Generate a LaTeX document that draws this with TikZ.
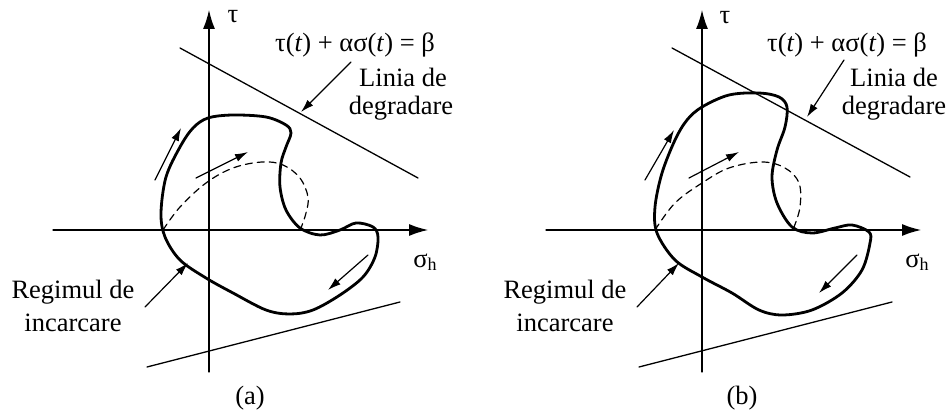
\documentclass[tikz,border=0pt]{standalone}
\usepackage{fontspec}
\setmainfont{Liberation Serif}
\usetikzlibrary{arrows.meta}

\begin{document}
\begin{tikzpicture}[x=1pt,y=1pt,line cap=round,line join=round,
    axis/.style={line width=1.3pt,-{Latex[length=19pt,width=12pt]}},
    pointer/.style={line width=1.2pt,-{Latex[length=13pt,width=8pt]}},
    loadpath/.style={line width=2.8pt},
    lbl/.style={font=\fontsize{26.5}{28}\selectfont,inner sep=0pt}]
    \useasboundingbox (0,0) rectangle (949,414);

    % panel (a)
    \begin{scope}[shift={(209,184)}]
        \draw[axis] (-156,0) -- (219,0);
        \draw[axis] (0,-142) -- (0,220);
        \draw[line width=1.3pt] (-29,182) -- (209,52);
        \draw[line width=1.3pt] (-62,-137) -- (191,-72);

        \draw[loadpath] plot[smooth cycle,tension=0.55] coordinates {
            (-1,112) (24,115) (57,113) (77,105) (82,97) (77,83) (72,67)
            (71,43) (77,20) (91,2) (111,-5) (131,0) (147,7) (164,3)
            (169,-7) (166,-27) (154,-47) (131,-65) (104,-80) (81,-84)
            (57,-80) (24,-63) (-3,-48) (-29,-30) (-44,-7) (-48,17)
            (-43,53) (-29,83) (-16,102)
        };
        \draw[line width=1.2pt,dash pattern=on 7pt off 5pt] plot[smooth,tension=0.6] coordinates {
            (-46,0) (-29,23) (-3,47) (24,62) (53,68) (74,65) (91,52)
            (99,33) (97,17) (92,2)
        };

        \node[lbl] (taua) at (24,213) {τ};
        \node[lbl] (sigmaa) at (216,-32) {σ\raisebox{-0.25ex}{\fontsize{18}{20}\selectfont h}};
        \node[lbl] (eqa) at (146,185) {τ(\textit{t}) + ασ(\textit{t}) = β};
        \node[lbl] (liniaa) at (194,153) {Linia de};
        \node[lbl] (degra) at (192,122) {degradare};
        \node[lbl] (regima) at (-136,-62) {Regimul de};
        \node[lbl] (incara) at (-136,-93) {incarcare};
        \node[lbl] (capa) at (41,-168) {(a)};

        \coordinate (lina1) at (142,168);
        \coordinate (lina2) at (92,118);
        \coordinate (rega1) at (-64,-77);
        \coordinate (rega2) at (-21,-33);
        \coordinate (upa1) at (-54,50);
        \coordinate (upa2) at (-28,102);
        \coordinate (dsa1) at (-13,52);
        \coordinate (dsa2) at (39,78);
        \coordinate (dna1) at (159,-25);
        \coordinate (dna2) at (119,-60);
        \draw[pointer] (lina1) -- (lina2);
        \draw[pointer] (rega1) -- (rega2);
        \draw[pointer] (upa1) -- (upa2);
        \draw[pointer] (dsa1) -- (dsa2);
        \draw[pointer] (dna1) -- (dna2);
    \end{scope}

    % panel (b)
    \begin{scope}[shift={(702,184)}]
        \draw[axis] (-156,0) -- (219,0);
        \draw[axis] (0,-142) -- (0,220);
        \draw[line width=1.3pt] (-30,182) -- (208,53);
        \draw[line width=1.3pt] (-63,-137) -- (190,-72);

        \draw[loadpath] plot[smooth cycle,tension=0.55] coordinates {
            (0,123) (27,135) (57,137) (77,133) (85,123) (83,103) (75,80)
            (70,53) (75,27) (90,3) (110,-3) (133,2) (150,5) (167,-2)
            (168,-13) (160,-40) (140,-63) (110,-80) (80,-85) (57,-80)
            (30,-63) (0,-47) (-27,-30) (-45,-3) (-47,23) (-40,57)
            (-27,90) (-15,110)
        };
        \draw[line width=1.2pt,dash pattern=on 7pt off 5pt] plot[smooth,tension=0.6] coordinates {
            (-47,0) (-27,27) (0,47) (27,62) (60,68) (83,62) (97,47)
            (98,23) (92,3)
        };

        \node[lbl] (taub) at (23,212) {τ};
        \node[lbl] (sigmab) at (215,-32) {σ\raisebox{-0.25ex}{\fontsize{18}{20}\selectfont h}};
        \node[lbl] (eqb) at (145,185) {τ(\textit{t}) + ασ(\textit{t}) = β};
        \node[lbl] (liniab) at (192,153) {Linia de};
        \node[lbl] (degrb) at (192,122) {degradare};
        \node[lbl] (regimb) at (-137,-62) {Regimul de};
        \node[lbl] (incarb) at (-137,-93) {incarcare};
        \node[lbl] (capb) at (40,-168) {(b)};

        \coordinate (linb1) at (142,170);
        \coordinate (linb2) at (105,113);
        \coordinate (regb1) at (-65,-77);
        \coordinate (regb2) at (-23,-33);
        \coordinate (upb1) at (-57,50);
        \coordinate (upb2) at (-28,100);
        \coordinate (dsb1) at (-13,52);
        \coordinate (dsb2) at (37,78);
        \coordinate (dnb1) at (155,-25);
        \coordinate (dnb2) at (117,-63);
        \draw[pointer] (linb1) -- (linb2);
        \draw[pointer] (regb1) -- (regb2);
        \draw[pointer] (upb1) -- (upb2);
        \draw[pointer] (dsb1) -- (dsb2);
        \draw[pointer] (dnb1) -- (dnb2);
    \end{scope}
\end{tikzpicture}
\end{document}
